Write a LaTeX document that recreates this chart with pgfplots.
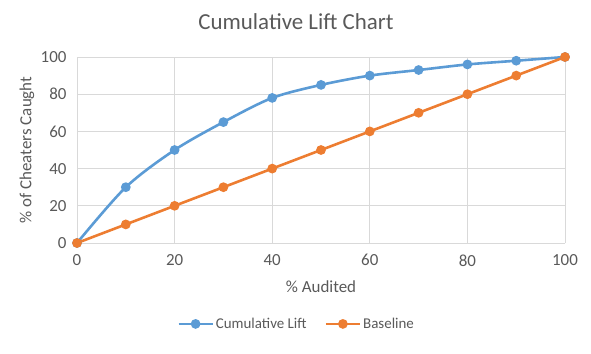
\documentclass[border=0pt]{standalone}
\usepackage{pgfplots}
\pgfplotsset{compat=1.18}
\usepackage{fontspec}
\setmainfont{Carlito}
\definecolor{xblue}{HTML}{5B9BD5}
\definecolor{xorange}{HTML}{ED7D31}
\definecolor{xgrid}{HTML}{D9D9D9}
\definecolor{xtext}{HTML}{595959}
\begin{document}
\begin{tikzpicture}[x=1bp,y=1bp]
\path[use as bounding box] (0,0) rectangle (591,353);
\node[text=xtext, font=\fontsize{23}{27}\selectfont] at (296,331) {Cumulative Lift Chart};
\begin{axis}[
  at={(77bp,110bp)}, anchor=south west,
  scale only axis, width=488bp, height=186bp,
  xmin=0, xmax=100, ymin=0, ymax=100,
  xtick={0,20,40,60,80,100}, ytick={0,20,40,60,80,100},
  grid=major, major grid style={xgrid, line width=0.75bp},
  axis line style={draw=none},
  axis x line*=bottom, 
  x axis line style={draw=xgrid, line width=0.75bp},
  tick style={draw=none},
  ticklabel style={text=xtext, font=\fontsize{17}{20}\selectfont},
  xticklabel style={yshift=-8bp},
  yticklabel style={xshift=-7bp},
  /pgf/number format/assume math mode=true,
  xlabel={\% Audited}, ylabel={\% of Cheaters Caught},
  label style={text=xtext, font=\fontsize{17}{20}\selectfont},
  xlabel style={at={(axis description cs:0.5,-0.237)}, anchor=center},
  ylabel style={at={(axis description cs:-0.1025,0.5)}, anchor=center, rotate=0},
  legend style={at={(0.45,-0.435)}, anchor=center, draw=none, legend columns=2,
    font=\fontsize{15}{18}\selectfont, text=xtext, inner sep=0pt,
    /tikz/every even column/.append style={column sep=16bp}},
  legend image code/.code={
    \draw[#1, mark=none] (0bp,0bp) -- (34bp,0bp);
    \fill[#1] (17bp,0bp) circle (3.5bp);},
  clip=false,
]
\addplot[xblue, line width=2.6bp, smooth, tension=0.5, mark=*, mark size=3.5bp] coordinates {
(0,0) (10,30) (20,50) (30,65) (40,78) (50,85) (60,90) (70,93) (80,96) (90,98) (100,100)};
\addlegendentry{Cumulative Lift}
\addplot[xorange, line width=2.6bp, mark=*, mark size=3.5bp] coordinates {
(0,0) (10,10) (20,20) (30,30) (40,40) (50,50) (60,60) (70,70) (80,80) (90,90) (100,100)};
\addlegendentry{Baseline}
\end{axis}
\end{tikzpicture}
\end{document}
